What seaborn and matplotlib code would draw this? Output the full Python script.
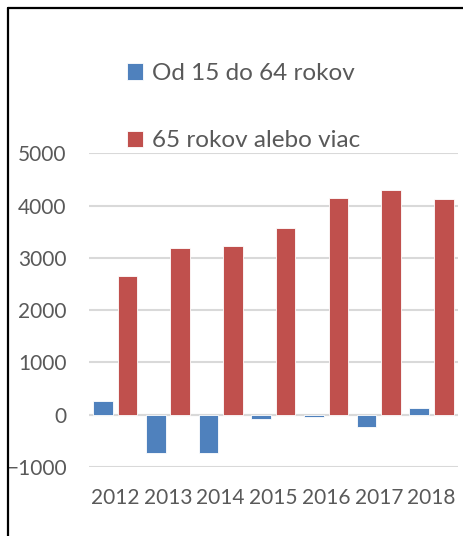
import pandas as pd
import seaborn as sns
import matplotlib.pyplot as plt
from matplotlib.lines import Line2D

years = ['2012', '2013', '2014', '2015', '2016', '2017', '2018']
od15do64 = [255, -740, -728, -90, -50, -230, 127]
nad65 = [2655, 3192, 3230, 3575, 4150, 4303, 4125]
series = ['Od 15 do 64 rokov', '65 rokov alebo viac']
colors = ['#4F81BD', '#C0504D']

d = pd.DataFrame({'rok': years * 2,
                  'hodnota': od15do64 + nad65,
                  'skupina': [series[0]] * 7 + [series[1]] * 7})

sns.set_style('white')
plt.rcParams['font.family'] = ['Lato', 'DejaVu Sans']
txt = '#595959'

fig = plt.figure(figsize=(4.63, 5.36), dpi=100)
ax = fig.add_axes([0.192, 0.1287, 0.797, 0.5853])
sns.barplot(data=d, x='rok', y='hodnota', hue='skupina', palette=colors,
            saturation=1, width=0.93, gap=0.2, ax=ax,
            edgecolor='white', linewidth=0.6)

ax.set_ylim(-1000, 5000)
ax.set_yticks(range(-1000, 5001, 1000))
ax.yaxis.grid(True, color='#D9D9D9', linewidth=1.5)
ax.set_axisbelow(True)
ax.axhline(0, color='#D9D9D9', linewidth=1.5, zorder=0)
for s in ax.spines.values():
    s.set_visible(False)
ax.set_xlabel('')
ax.set_ylabel('')
ax.tick_params(axis='y', length=0, pad=16, labelsize=15, labelcolor=txt)
ax.tick_params(axis='x', length=0, pad=15, labelsize=15, labelcolor=txt)

h, l = ax.get_legend_handles_labels()
ax.get_legend().remove()
fig.legend(h, l, loc='upper left', bbox_to_anchor=(0.228, 0.923), frameon=False,
           fontsize=17.5, labelcolor=txt, handlelength=0.65, handleheight=0.65,
           handletextpad=0.35, labelspacing=1.9)

# ramcek grafu
fig.add_artist(Line2D([0.0173, 1], [0.986, 0.986], color='black', linewidth=1.6))
fig.add_artist(Line2D([0.0173, 0.0173], [0, 0.986], color='black', linewidth=1.6))

plt.savefig('out.png', dpi=100)
